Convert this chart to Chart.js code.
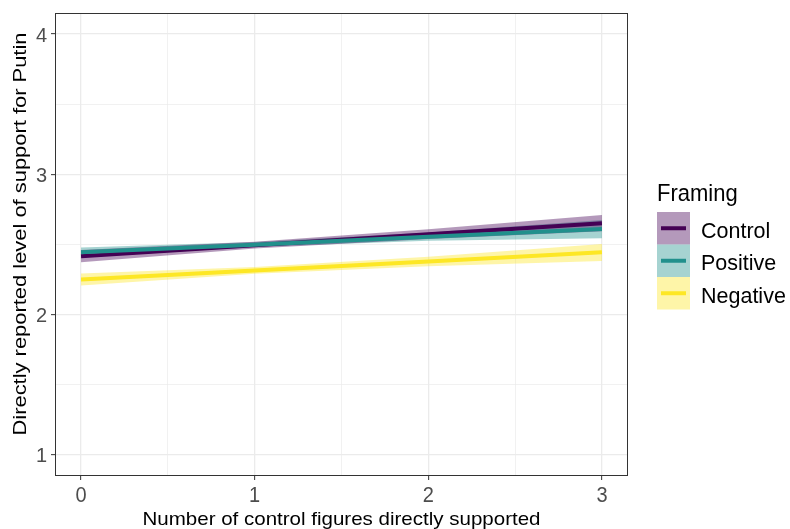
<!DOCTYPE html>
<html>
<head>
<meta charset="utf-8">
<script src="https://cdn.jsdelivr.net/npm/chart.js@4.4.1/dist/chart.umd.min.js"></script>
<style>
  html, body { margin: 0; padding: 0; background: #fff; }
  #wrap { width: 790px; height: 529px; position: relative; }
</style>
</head>
<body>
<div id="wrap"><canvas id="chart"></canvas></div>
<script>
// Data
const xValues = [0, 1, 2, 3];
const groups = ["Control", "Positive", "Negative"];
const controlFit = [2.416, 2.495, 2.573, 2.652];
const controlLow = [2.373, 2.472, 2.540, 2.595];
const controlHigh = [2.460, 2.520, 2.608, 2.711];
const positiveFit = [2.444, 2.499, 2.555, 2.610];
const positiveLow = [2.410, 2.482, 2.527, 2.545];
const positiveHigh = [2.479, 2.518, 2.585, 2.675];
const negativeFit = [2.250, 2.315, 2.379, 2.444];
const negativeLow = [2.208, 2.292, 2.345, 2.382];
const negativeHigh = [2.293, 2.340, 2.413, 2.504];
const yTicks = [1, 2, 3, 4];
const xTicks = [0, 1, 2, 3];

const xTitle = "Number of control figures directly supported";
const yTitle = "Directly reported level of support for Putin";
const legendTitle = "Framing";

const lineColors = ["#440154", "#21908C", "#FDE725"];
const ribbonColors = ["rgba(68,1,84,0.4)", "rgba(33,144,140,0.4)", "rgba(253,231,37,0.4)"];
const FONT = "'Liberation Sans', Arial, sans-serif";

const pts = arr => arr.map((v, i) => ({ x: xValues[i], y: v }));

const fits = [controlFit, positiveFit, negativeFit];
const lows = [controlLow, positiveLow, negativeLow];
const highs = [controlHigh, positiveHigh, negativeHigh];

const datasets = [];
// ribbons: low then high filled back to low
groups.forEach((g, i) => {
  datasets.push({ label: g + " low", data: pts(lows[i]), borderWidth: 0, pointRadius: 0, fill: false });
  datasets.push({ label: g + " high", data: pts(highs[i]), borderWidth: 0, pointRadius: 0,
    fill: datasets.length - 1, backgroundColor: ribbonColors[i] });
});
// fitted lines on top
groups.forEach((g, i) => {
  datasets.push({ label: g, data: pts(fits[i]), borderColor: lineColors[i], borderWidth: 4,
    pointRadius: 0, fill: false, order: -1 - i });
});

const isInt = v => Math.abs(v - Math.round(v)) < 1e-6;

// draw text with its baseline at y, optionally stretched to a given width
function drawText(c, text, x, y, size, opts) {
  opts = opts || {};
  c.save();
  c.font = size + "px " + FONT;
  c.fillStyle = opts.color || "#000";
  c.textBaseline = "alphabetic";
  c.textAlign = opts.align || "left";
  c.translate(x, y);
  if (opts.rotate) c.rotate(opts.rotate);
  let sx = 1;
  if (opts.width) sx = opts.width / c.measureText(text).width;
  c.scale(sx, opts.sy || 1);
  c.fillText(text, 0, 0);
  c.restore();
}

const textPlugin = {
  id: "ggText",
  afterDraw(chart) {
    const c = chart.ctx;
    const a = chart.chartArea;
    const xs = chart.scales.x, ys = chart.scales.y;
    c.save();
    // panel border
    c.strokeStyle = "#333333";
    c.lineWidth = 1;
    c.strokeRect(a.left + 0.5, a.top + 0.5, a.right - a.left - 1, a.bottom - a.top - 1);
    c.restore();

    // tick labels
    xTicks.forEach(v => {
      drawText(c, String(v), xs.getPixelForValue(v), 502, 20, { color: "#4D4D4D", align: "center", sy: 1.12 });
    });
    yTicks.forEach(v => {
      drawText(c, String(v), 47, ys.getPixelForValue(v) + 7.5, 20, { color: "#4D4D4D", align: "right", sy: 1.05 });
    });

    // axis titles
    drawText(c, xTitle, (a.left + a.right) / 2, 525, 19, { align: "center", width: 398 });
    drawText(c, yTitle, 26, 234, 19, { align: "center", width: 403, rotate: -Math.PI / 2 });

    // legend
    drawText(c, legendTitle, 657, 201, 22, { sy: 1.12 });
    const boxX = 657, boxW = 33, boxH = 32.5, top0 = 212;
    groups.forEach((g, i) => {
      const y = top0 + i * boxH;
      c.save();
      c.fillStyle = ribbonColors[i];
      c.fillRect(boxX, y, boxW, boxH);
      c.strokeStyle = lineColors[i];
      c.lineWidth = 4;
      c.beginPath();
      c.moveTo(boxX + 4, y + boxH / 2);
      c.lineTo(boxX + boxW - 4, y + boxH / 2);
      c.stroke();
      c.restore();
      drawText(c, g, 701, y + boxH / 2 + 9.5, 21.5, { sy: 1.05 });
    });
  }
};

new Chart(document.getElementById("chart").getContext("2d"), {
  type: "line",
  data: { datasets: datasets },
  options: {
    responsive: true,
    maintainAspectRatio: false,
    animation: false,
    layout: { padding: { top: 13, right: 162, left: 0, bottom: 0 } },
    plugins: {
      legend: { display: false },
      tooltip: { enabled: false },
      filler: { drawTime: "beforeDatasetsDraw" }
    },
    scales: {
      x: {
        type: "linear",
        min: -0.15,
        max: 3.15,
        afterBuildTicks: s => { s.ticks = [0, 0.5, 1, 1.5, 2, 2.5, 3].map(v => ({ value: v })); },
        afterFit: s => { s.height = 53; },
        ticks: { autoSkip: false, maxRotation: 0, callback: () => "" },
        grid: {
          color: "#EBEBEB",
          lineWidth: ctx => isInt(ctx.tick.value) ? 1.3 : 0.7,
          tickLength: 4,
          tickColor: ctx => isInt(ctx.tick.value) ? "#333333" : "rgba(0,0,0,0)",
          tickWidth: 1
        },
        border: { display: false }
      },
      y: {
        type: "linear",
        min: 0.85,
        max: 4.15,
        afterBuildTicks: s => { s.ticks = [1, 1.5, 2, 2.5, 3, 3.5, 4].map(v => ({ value: v })); },
        afterFit: s => { s.width = 55; },
        ticks: { autoSkip: false, callback: () => "" },
        grid: {
          color: "#EBEBEB",
          lineWidth: ctx => isInt(ctx.tick.value) ? 1.3 : 0.7,
          tickLength: 4,
          tickColor: ctx => isInt(ctx.tick.value) ? "#333333" : "rgba(0,0,0,0)",
          tickWidth: 1
        },
        border: { display: false }
      }
    }
  },
  plugins: [textPlugin]
});
</script>
</body>
</html>
